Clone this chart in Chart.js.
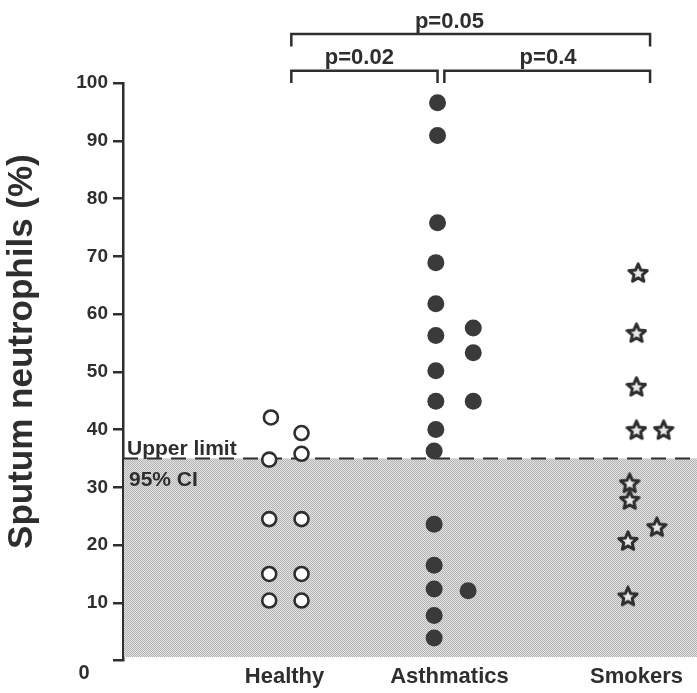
<!DOCTYPE html>
<html>
<head>
<meta charset="utf-8">
<script src="https://cdn.jsdelivr.net/npm/chart.js@4"></script>
<style>
  body { margin: 0; background: #fff; }
</style>
</head>
<body>
<canvas id="myChart" width="697" height="693"></canvas>
<script>
// groups and where their labels sit on the x axis
const groups = ["Healthy", "Asthmatics", "Smokers"];
const groupPos = [0.95, 1.92, 3.02];

// healthy subjects (open circles)
const healthyValues = [42.1, 34.8, 24.5, 15.0, 10.4, 39.4, 35.8, 24.5, 15.0, 10.4];
const healthyX = [0.87, 0.86, 0.86, 0.86, 0.86, 1.05, 1.05, 1.05, 1.05, 1.05];

// asthmatics (filled circles)
const asthmaValues = [96.6, 90.9, 75.8, 68.9, 61.8, 56.3, 50.2, 44.9, 40.0, 36.3, 23.6, 16.5, 12.4, 7.8, 3.9,
                      57.6, 53.3, 44.9, 12.1];
const asthmaX = [1.85, 1.85, 1.85, 1.84, 1.84, 1.84, 1.84, 1.84, 1.84, 1.83, 1.83, 1.83, 1.83, 1.83, 1.83,
                 2.06, 2.06, 2.06, 2.03];

// smokers (stars)
const smokerValues = [67.1, 56.7, 47.4, 39.9, 30.7, 27.8, 20.7, 11.1, 39.9, 23.1];
const smokerX = [3.03, 3.02, 3.02, 3.02, 2.98, 2.98, 2.97, 2.97, 3.18, 3.14];

const yTicks = [0, 10, 20, 30, 40, 50, 60, 70, 80, 90, 100];
const ciUpper = 35;

const ink = "#2e2e2e";
const fam = "'Liberation Sans', Arial, sans-serif";

function toPoints(xs, ys) {
  return ys.map((v, i) => ({ x: xs[i], y: v }));
}

function makeStar() {
  const c = document.createElement("canvas");
  c.width = 22; c.height = 22;
  const g = c.getContext("2d");
  g.beginPath();
  for (let i = 0; i < 10; i++) {
    const r = i % 2 ? 4.4 : 9.6;
    const a = -Math.PI / 2 + i * Math.PI / 5;
    g.lineTo(11 + r * Math.cos(a), 11.5 + r * Math.sin(a));
  }
  g.closePath();
  g.fillStyle = "#e8e8e8";
  g.fill();
  g.lineJoin = "round";
  g.lineWidth = 3;
  g.strokeStyle = ink;
  g.stroke();
  return c;
}

function makeStipple(ctx) {
  const c = document.createElement("canvas");
  c.width = 2; c.height = 2;
  const g = c.getContext("2d");
  g.fillStyle = "#e2e2e2";
  g.fillRect(0, 0, 2, 2);
  g.fillStyle = "#b4b4b4";
  g.fillRect(0, 0, 1, 1);
  g.fillRect(1, 1, 1, 1);
  return ctx.createPattern(c, "repeat");
}

// shaded 95% CI band, dashed upper limit, brackets and extra text
const decorations = {
  id: "decorations",
  beforeDatasetsDraw(chart) {
    const { ctx, chartArea, scales } = chart;
    const y = scales.y;
    const top = y.getPixelForValue(ciUpper);
    const bottom = y.getPixelForValue(0.6);
    ctx.save();
    ctx.fillStyle = makeStipple(ctx);
    ctx.fillRect(chartArea.left + 1, top, chartArea.right - chartArea.left, bottom - top);
    ctx.strokeStyle = ink;
    ctx.lineWidth = 2;
    ctx.setLineDash([15, 9]);
    ctx.beginPath();
    ctx.moveTo(chartArea.left, top);
    ctx.lineTo(chartArea.right, top);
    ctx.stroke();
    ctx.setLineDash([]);
    ctx.fillStyle = ink;
    ctx.font = "bold 21px " + fam;
    ctx.textAlign = "left";
    ctx.textBaseline = "middle";
    ctx.fillText("Upper limit", chartArea.left + 4, y.getPixelForValue(36.6));
    ctx.fillText("95% CI", chartArea.left + 6, y.getPixelForValue(31.2));
    ctx.restore();
  },
  afterDraw(chart) {
    const { ctx, scales } = chart;
    const x = scales.x, y = scales.y;
    ctx.save();
    ctx.strokeStyle = ink;
    ctx.lineWidth = 2.5;
    const bracket = (x0, x1, level, drop) => {
      ctx.beginPath();
      ctx.moveTo(x.getPixelForValue(x0), y.getPixelForValue(drop));
      ctx.lineTo(x.getPixelForValue(x0), y.getPixelForValue(level));
      ctx.lineTo(x.getPixelForValue(x1), y.getPixelForValue(level));
      ctx.lineTo(x.getPixelForValue(x1), y.getPixelForValue(drop));
      ctx.stroke();
    };
    bracket(0.99, 3.1, 108.5, 106.3);
    bracket(0.99, 1.85, 102.1, 100);
    bracket(1.89, 3.1, 102.1, 100);
    ctx.fillStyle = ink;
    ctx.font = "bold 22px " + fam;
    ctx.textAlign = "center";
    ctx.textBaseline = "middle";
    ctx.fillText("p=0.05", x.getPixelForValue(1.92), y.getPixelForValue(110.6));
    ctx.fillText("p=0.02", x.getPixelForValue(1.39), y.getPixelForValue(104.3));
    ctx.fillText("p=0.4", x.getPixelForValue(2.5), y.getPixelForValue(104.3));
    // the zero label sits a little lower than its tick
    ctx.font = "bold 20px " + fam;
    ctx.fillText("0", 84, y.getPixelForValue(-2.3));
    // axis title
    ctx.translate(32, y.getPixelForValue(53.5));
    ctx.rotate(-Math.PI / 2);
    ctx.font = "bold 35px " + fam;
    ctx.textBaseline = "alphabetic";
    ctx.fillText("Sputum neutrophils (%)", 0, 0);
    ctx.restore();
  },
};

const ctx = document.getElementById("myChart");
new Chart(ctx, {
  type: "scatter",
  data: {
    datasets: [
      {
        label: "Healthy",
        data: toPoints(healthyX, healthyValues),
        pointStyle: "circle",
        pointRadius: 7,
        pointBorderWidth: 2.6,
        borderColor: ink,
        backgroundColor: "#ffffff",
      },
      {
        label: "Asthmatics",
        data: toPoints(asthmaX, asthmaValues),
        pointStyle: "circle",
        pointRadius: 8.5,
        pointBorderWidth: 0,
        borderColor: "#3a3a3a",
        backgroundColor: "#3a3a3a",
      },
      {
        label: "Smokers",
        data: toPoints(smokerX, smokerValues),
        pointStyle: makeStar(),
        pointRadius: 9,
      },
    ],
  },
  options: {
    responsive: false,
    animation: false,
    events: [],
    layout: { autoPadding: false, padding: { top: 83, right: 0, bottom: 0, left: 0 } },
    plugins: {
      legend: { display: false },
      tooltip: { enabled: false },
    },
    scales: {
      x: {
        type: "linear",
        min: 0,
        max: 3.376,
        grid: { display: false, drawTicks: false },
        border: { display: false },
        afterBuildTicks(scale) {
          scale.ticks = groupPos.map((v) => ({ value: v }));
        },
        ticks: {
          autoSkip: false,
          maxRotation: 0,
          padding: 3,
          color: ink,
          font: { family: fam, size: 22, weight: "bold" },
          callback: (value, i) => groups[i],
        },
      },
      y: {
        min: 0,
        max: 100,
        afterBuildTicks(scale) {
          scale.ticks = yTicks.map((v) => ({ value: v }));
        },
        afterFit(scale) {
          scale.width = 123;
        },
        grid: {
          drawOnChartArea: false,
          drawTicks: true,
          tickLength: 10,
          color: ink,
          lineWidth: 2.5,
        },
        border: { display: true, color: ink, width: 2.5 },
        ticks: {
          padding: 5,
          color: ink,
          font: { family: fam, size: 19, weight: "bold" },
          callback: (value) => (value === 0 ? "" : value),
        },
        title: { display: false },
      },
    },
  },
  plugins: [decorations],
});
</script>
</body>
</html>
